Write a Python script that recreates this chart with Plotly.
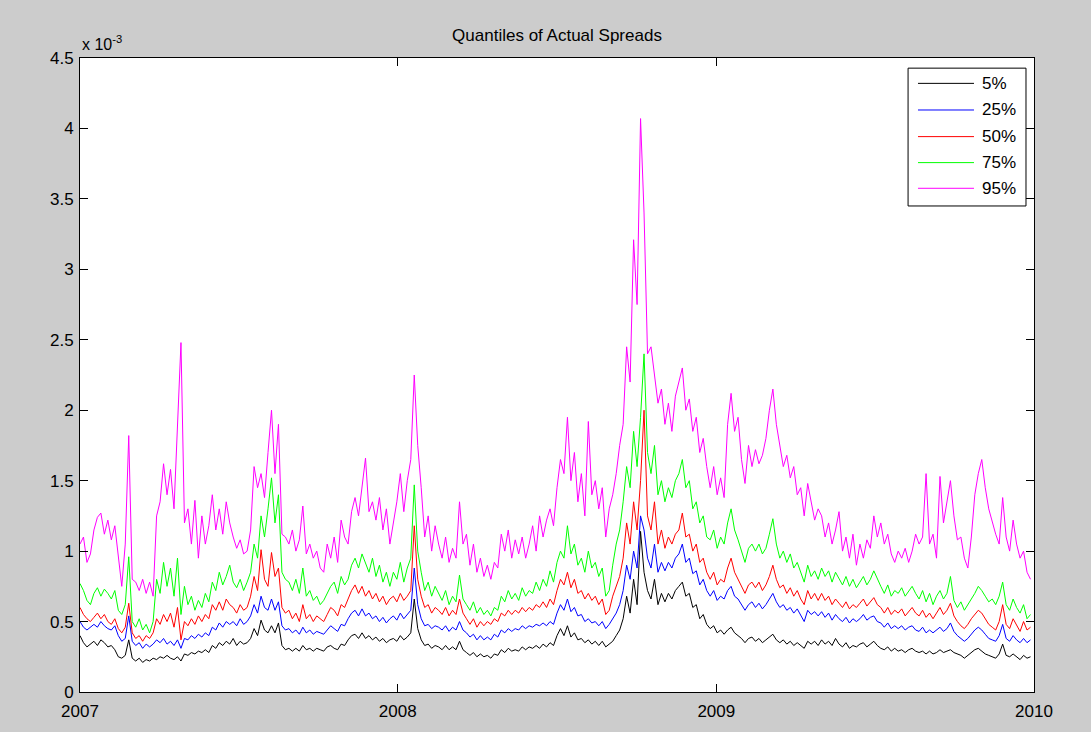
import pandas as pd
import plotly.graph_objects as go

# values in units of 1e-3, sampled every 4 days from 2007-01-01
q95 = [
    1.05,1.10,0.92,0.98,1.15,1.24,1.27,1.12,1.22,1.08,
    1.18,0.95,0.75,1.05,1.82,0.80,0.78,0.72,0.80,0.70,
    0.78,0.68,1.25,1.35,1.62,1.40,1.58,1.30,1.85,2.48,
    1.20,1.30,1.05,1.36,0.95,1.25,1.05,1.18,1.40,1.15,
    1.30,1.12,1.35,1.20,1.10,1.02,1.08,0.98,1.00,1.15,
    1.60,1.45,1.55,1.38,1.70,2.00,1.55,1.90,1.12,1.10,
    1.05,1.15,1.00,1.08,1.32,0.98,1.05,0.95,1.00,0.88,
    0.85,1.05,0.95,1.10,0.92,1.22,1.10,1.05,1.28,1.38,
    1.25,1.45,1.66,1.28,1.35,1.22,1.38,1.15,1.30,1.05,
    1.20,1.35,1.55,1.28,1.50,1.65,2.25,1.75,1.45,1.10,
    1.25,1.00,1.18,1.05,0.95,1.10,0.92,1.02,0.95,1.35,
    1.05,1.12,0.90,1.05,0.85,0.95,0.82,0.90,0.80,0.92,
    0.88,1.12,1.00,1.15,0.95,1.08,0.98,1.10,0.95,1.05,
    1.18,1.00,1.25,1.10,1.22,1.30,1.18,1.45,1.65,1.55,
    1.95,1.50,1.70,1.35,1.55,1.25,1.92,1.40,1.50,1.30,
    1.45,1.10,1.30,1.40,1.55,1.75,1.90,2.45,2.20,3.21,
    2.75,4.07,3.40,2.40,2.45,2.25,2.05,2.15,1.90,2.05,
    1.85,2.10,2.20,2.30,2.00,2.08,1.85,1.95,1.70,1.80,
    1.60,1.45,1.60,1.40,1.52,1.38,1.90,2.12,1.85,1.95,
    1.65,1.48,1.75,1.60,1.72,1.62,1.68,1.80,2.00,2.15,
    1.90,1.75,1.60,1.68,1.52,1.60,1.40,1.45,1.25,1.48,
    1.35,1.22,1.30,1.25,1.10,1.20,1.05,1.15,1.28,1.00,
    1.10,0.95,1.12,0.90,1.05,0.95,1.08,1.02,1.25,1.10,
    1.20,1.05,1.12,0.98,0.92,1.00,0.95,1.02,0.92,1.00,
    1.12,1.05,1.10,1.55,1.05,1.12,0.95,1.53,1.20,1.35,
    1.50,1.25,1.08,1.10,0.95,0.88,1.10,1.40,1.55,1.65,
    1.45,1.30,1.20,1.12,1.05,1.38,1.10,1.00,1.22,1.05,
    0.95,1.00,0.85,0.80,
]
q75 = [
    0.77,0.72,0.65,0.62,0.70,0.74,0.68,0.73,0.70,0.66,
    0.72,0.58,0.55,0.62,0.96,0.50,0.46,0.52,0.44,0.48,
    0.42,0.50,0.80,0.70,0.92,0.75,0.88,0.68,0.95,0.55,
    0.75,0.62,0.68,0.58,0.65,0.60,0.70,0.64,0.78,0.72,
    0.85,0.76,0.82,0.90,0.78,0.74,0.80,0.72,0.78,0.85,
    1.05,0.95,1.25,1.10,1.30,1.52,1.20,1.40,0.85,0.80,
    0.78,0.72,0.80,0.70,0.88,0.68,0.72,0.65,0.68,0.62,
    0.65,0.70,0.75,0.78,0.70,0.82,0.76,0.80,0.90,0.95,
    0.88,0.98,0.92,0.85,0.95,0.82,0.90,0.78,0.85,0.75,
    0.85,0.80,0.92,0.78,0.88,0.95,1.47,1.00,0.85,0.72,
    0.78,0.68,0.75,0.70,0.65,0.72,0.62,0.68,0.64,0.83,
    0.66,0.62,0.58,0.64,0.56,0.60,0.55,0.58,0.54,0.60,
    0.58,0.68,0.64,0.72,0.66,0.70,0.65,0.74,0.68,0.72,
    0.70,0.78,0.72,0.80,0.75,0.86,0.78,0.92,1.00,0.95,
    1.18,0.98,1.05,0.90,0.95,0.85,1.00,0.88,0.92,0.82,
    0.88,0.68,0.72,0.90,1.05,1.15,1.35,1.60,1.45,1.85,
    1.60,1.95,2.40,1.70,1.55,1.75,1.40,1.50,1.35,1.45,
    1.38,1.50,1.55,1.65,1.45,1.50,1.30,1.35,1.20,1.25,
    1.10,1.08,1.15,1.02,1.10,1.05,1.20,1.30,1.15,1.08,
    1.00,0.92,1.02,1.05,1.00,1.05,0.98,1.02,1.12,1.23,
    1.05,0.95,1.00,0.92,0.98,0.88,0.92,0.85,0.78,0.90,
    0.82,0.86,0.80,0.88,0.82,0.86,0.78,0.85,0.80,0.76,
    0.82,0.75,0.80,0.74,0.78,0.82,0.76,0.80,0.86,0.80,
    0.75,0.70,0.76,0.68,0.72,0.70,0.74,0.68,0.72,0.75,
    0.70,0.66,0.72,0.64,0.70,0.62,0.68,0.72,0.66,0.70,
    0.82,0.65,0.60,0.64,0.58,0.62,0.66,0.70,0.75,0.72,
    0.68,0.64,0.66,0.62,0.68,0.78,0.62,0.58,0.66,0.60,
    0.56,0.62,0.52,0.55,
]
q50 = [
    0.60,0.55,0.52,0.50,0.53,0.56,0.52,0.55,0.50,0.48,
    0.52,0.45,0.42,0.46,0.63,0.42,0.38,0.40,0.36,0.40,
    0.38,0.42,0.52,0.48,0.55,0.50,0.56,0.46,0.60,0.37,
    0.50,0.47,0.52,0.48,0.54,0.50,0.55,0.52,0.62,0.58,
    0.64,0.58,0.66,0.62,0.60,0.56,0.62,0.58,0.60,0.68,
    0.82,0.72,1.01,0.80,0.75,0.99,0.82,0.88,0.60,0.56,
    0.58,0.52,0.56,0.50,0.62,0.52,0.55,0.50,0.54,0.52,
    0.50,0.55,0.60,0.58,0.54,0.62,0.60,0.66,0.72,0.76,
    0.70,0.75,0.68,0.72,0.66,0.70,0.64,0.68,0.62,0.66,
    0.68,0.64,0.70,0.65,0.68,0.72,1.18,0.80,0.68,0.60,
    0.62,0.56,0.60,0.58,0.55,0.60,0.54,0.58,0.55,0.66,
    0.56,0.52,0.48,0.52,0.46,0.50,0.47,0.50,0.48,0.52,
    0.50,0.56,0.54,0.58,0.55,0.58,0.56,0.60,0.57,0.60,
    0.58,0.62,0.60,0.64,0.60,0.66,0.62,0.72,0.80,0.76,
    0.85,0.74,0.80,0.70,0.72,0.66,0.70,0.65,0.68,0.62,
    0.66,0.55,0.58,0.68,0.75,0.82,0.95,1.20,1.05,1.35,
    1.15,1.50,2.00,1.25,1.15,1.35,1.05,1.15,1.02,1.10,
    1.05,1.12,1.15,1.27,1.10,1.12,1.00,1.05,0.92,0.95,
    0.85,0.80,0.85,0.76,0.80,0.78,0.88,0.95,0.85,0.80,
    0.76,0.70,0.76,0.78,0.74,0.78,0.72,0.76,0.82,0.90,
    0.80,0.74,0.76,0.70,0.74,0.68,0.72,0.66,0.62,0.72,
    0.66,0.70,0.65,0.70,0.65,0.68,0.62,0.66,0.63,0.60,
    0.64,0.59,0.62,0.60,0.63,0.66,0.61,0.64,0.67,0.62,
    0.60,0.56,0.60,0.55,0.58,0.56,0.59,0.54,0.57,0.60,
    0.56,0.54,0.58,0.53,0.56,0.52,0.56,0.60,0.55,0.58,
    0.63,0.54,0.50,0.47,0.45,0.48,0.52,0.55,0.58,0.56,
    0.52,0.48,0.46,0.44,0.50,0.62,0.48,0.45,0.52,0.47,
    0.43,0.50,0.44,0.46,
]
q25 = [
    0.50,0.46,0.44,0.46,0.48,0.46,0.50,0.47,0.45,0.44,
    0.47,0.40,0.36,0.38,0.54,0.36,0.33,0.35,0.31,0.34,
    0.32,0.34,0.37,0.35,0.38,0.34,0.36,0.33,0.37,0.31,
    0.38,0.37,0.40,0.38,0.41,0.39,0.42,0.40,0.46,0.44,
    0.49,0.46,0.50,0.48,0.50,0.47,0.52,0.48,0.50,0.54,
    0.62,0.56,0.68,0.60,0.58,0.66,0.58,0.64,0.47,0.44,
    0.45,0.42,0.44,0.41,0.46,0.42,0.44,0.41,0.43,0.42,
    0.41,0.44,0.47,0.45,0.43,0.48,0.47,0.52,0.56,0.58,
    0.54,0.59,0.54,0.56,0.52,0.54,0.50,0.53,0.49,0.52,
    0.54,0.51,0.56,0.52,0.55,0.58,0.88,0.62,0.52,0.47,
    0.48,0.45,0.47,0.46,0.44,0.47,0.43,0.46,0.44,0.50,
    0.44,0.42,0.39,0.41,0.37,0.40,0.37,0.39,0.37,0.41,
    0.39,0.44,0.42,0.45,0.43,0.45,0.44,0.47,0.45,0.47,
    0.46,0.48,0.47,0.49,0.47,0.50,0.48,0.56,0.62,0.58,
    0.66,0.57,0.60,0.54,0.55,0.50,0.52,0.49,0.50,0.47,
    0.50,0.45,0.48,0.52,0.56,0.62,0.72,0.90,0.80,1.00,
    0.88,1.25,1.15,0.95,0.88,1.05,0.85,0.92,0.86,0.92,
    0.88,0.95,0.98,1.05,0.92,0.95,0.84,0.86,0.76,0.80,
    0.72,0.68,0.72,0.65,0.68,0.66,0.72,0.75,0.68,0.66,
    0.62,0.58,0.62,0.64,0.60,0.63,0.59,0.62,0.66,0.70,
    0.64,0.60,0.62,0.58,0.60,0.56,0.59,0.55,0.50,0.58,
    0.55,0.57,0.54,0.57,0.53,0.56,0.51,0.55,0.52,0.50,
    0.53,0.49,0.52,0.50,0.52,0.55,0.51,0.53,0.54,0.50,
    0.49,0.46,0.49,0.45,0.47,0.45,0.47,0.44,0.46,0.47,
    0.44,0.43,0.46,0.42,0.44,0.42,0.44,0.46,0.43,0.45,
    0.49,0.43,0.40,0.38,0.36,0.38,0.41,0.44,0.46,0.44,
    0.41,0.38,0.37,0.36,0.40,0.48,0.38,0.36,0.40,0.37,
    0.35,0.38,0.35,0.37,
]
q05 = [
    0.40,0.35,0.32,0.34,0.36,0.33,0.37,0.35,0.32,0.33,
    0.30,0.25,0.24,0.26,0.37,0.24,0.22,0.24,0.21,0.23,
    0.22,0.24,0.23,0.25,0.24,0.26,0.24,0.23,0.25,0.22,
    0.27,0.26,0.28,0.27,0.29,0.28,0.30,0.28,0.33,0.31,
    0.35,0.33,0.36,0.34,0.38,0.33,0.36,0.34,0.35,0.38,
    0.45,0.40,0.51,0.44,0.42,0.47,0.42,0.49,0.33,0.30,
    0.31,0.29,0.31,0.29,0.33,0.30,0.31,0.29,0.31,0.30,
    0.29,0.32,0.33,0.31,0.30,0.34,0.33,0.37,0.40,0.41,
    0.38,0.42,0.38,0.40,0.37,0.39,0.36,0.38,0.35,0.37,
    0.38,0.36,0.40,0.37,0.39,0.42,0.66,0.45,0.37,0.33,
    0.34,0.31,0.33,0.32,0.30,0.33,0.30,0.32,0.30,0.36,
    0.30,0.28,0.26,0.28,0.25,0.27,0.25,0.26,0.24,0.27,
    0.26,0.30,0.28,0.31,0.29,0.30,0.29,0.32,0.30,0.32,
    0.31,0.33,0.31,0.34,0.32,0.35,0.33,0.40,0.45,0.40,
    0.47,0.39,0.42,0.37,0.38,0.35,0.37,0.34,0.36,0.33,
    0.36,0.32,0.34,0.36,0.40,0.44,0.52,0.68,0.56,0.80,
    0.62,1.14,0.85,0.72,0.66,0.80,0.62,0.70,0.64,0.70,
    0.66,0.72,0.75,0.78,0.68,0.70,0.60,0.62,0.52,0.55,
    0.48,0.45,0.47,0.42,0.44,0.41,0.44,0.46,0.42,0.40,
    0.38,0.35,0.38,0.39,0.36,0.38,0.35,0.37,0.39,0.41,
    0.37,0.35,0.37,0.34,0.36,0.33,0.35,0.33,0.31,0.36,
    0.34,0.36,0.33,0.37,0.34,0.36,0.33,0.38,0.34,0.32,
    0.35,0.31,0.33,0.32,0.34,0.35,0.32,0.34,0.36,0.33,
    0.31,0.30,0.32,0.29,0.31,0.29,0.30,0.28,0.30,0.31,
    0.29,0.28,0.29,0.27,0.29,0.27,0.28,0.30,0.28,0.29,
    0.30,0.28,0.27,0.26,0.24,0.26,0.28,0.30,0.31,0.29,
    0.27,0.26,0.25,0.24,0.27,0.34,0.26,0.25,0.27,0.25,
    0.23,0.26,0.24,0.25,
]

series_names = ["5%", "25%", "50%", "75%", "95%"]
series_values = [q05, q25, q50, q75, q95]
series_colors = ["#000000", "#0000ff", "#ff0000", "#00ff00", "#ff00ff"]

year_ticks = ["2007-01-01", "2008-01-01", "2009-01-01", "2010-01-01"]
year_labels = ["2007", "2008", "2009", "2010"]
y_ticks = [0, 0.5, 1, 1.5, 2, 2.5, 3, 3.5, 4, 4.5]
y_labels = ["0", "0.5", "1", "1.5", "2", "2.5", "3", "3.5", "4", "4.5"]

FONT = "Liberation Sans, Arial, Helvetica, sans-serif"

fig = go.Figure()
for name, vals, col in zip(series_names, series_values, series_colors):
    dates = pd.date_range("2007-01-01", periods=len(vals), freq="4D")
    fig.add_trace(go.Scatter(x=dates, y=vals, mode="lines", name=name,
                             line=dict(color=col, width=1), showlegend=False))

axis_common = dict(showline=True, linecolor="black", linewidth=1, mirror="ticks",
                   ticks="inside", ticklen=8, tickcolor="black", tickwidth=1,
                   showgrid=False, zeroline=False,
                   tickfont=dict(family=FONT, size=17, color="black"))

fig.update_xaxes(range=["2007-01-01", "2010-01-01"], tickvals=year_ticks,
                 ticktext=year_labels, ticklabelstandoff=4, **axis_common)
fig.update_yaxes(range=[0, 4.5], tickvals=y_ticks, ticktext=y_labels,
                 ticklabelstandoff=2, **axis_common)

# manual legend box
shapes = [dict(type="rect", xref="paper", yref="paper", x0=0.868, x1=0.9916,
               y0=0.7666, y1=0.984, line=dict(color="black", width=1),
               fillcolor="white", layer="above")]
annotations = []
legend_rows = [0.960, 0.918, 0.876, 0.835, 0.7945]
for name, col, yy in zip(series_names, series_colors, legend_rows):
    shapes.append(dict(type="line", xref="paper", yref="paper", x0=0.8784, x1=0.9371,
                       y0=yy, y1=yy, line=dict(color=col, width=1), layer="above"))
    annotations.append(dict(xref="paper", yref="paper", x=0.943, y=yy, text=name,
                            showarrow=False, xanchor="left", yanchor="middle",
                            font=dict(family=FONT, size=17, color="black")))

annotations.append(dict(xref="paper", yref="paper", x=0.0, y=1.0, xanchor="left",
                        yanchor="bottom", yshift=3, showarrow=False,
                        text="x 10<sup>-3</sup>",
                        font=dict(family=FONT, size=16, color="black")))

fig.update_layout(
    width=1091, height=732,
    margin=dict(l=80, r=57, t=58, b=40),
    paper_bgcolor="#cccccc", plot_bgcolor="white",
    title=dict(text="Quantiles of Actual Spreads", x=0.5, xref="paper",
               y=1 - 35 / 732, yref="container", yanchor="middle", xanchor="center",
               font=dict(family=FONT, size=17, color="black")),
    shapes=shapes, annotations=annotations,
)

fig.write_html("out.html")
